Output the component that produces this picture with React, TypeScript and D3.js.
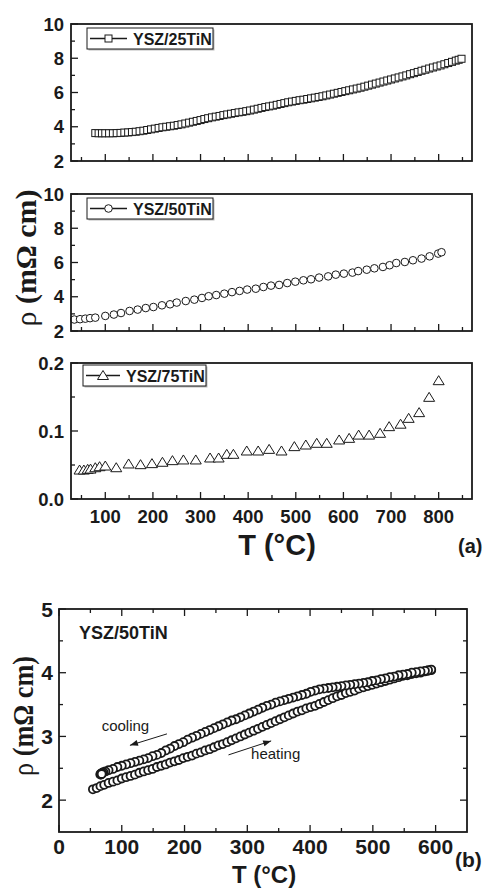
import React from "react";
import * as d3 from "d3";

type Pt = [number, number];

// (a) resistivity vs temperature, T in °C, rho in mOhm cm
const ysz25: Pt[] = [
  [79, 3.63], [86, 3.62], [93, 3.62], [100, 3.62], [108, 3.62], [116, 3.62], [124, 3.63],
  [132, 3.64], [140, 3.66], [148, 3.67], [156, 3.69], [164, 3.71], [172, 3.74], [180, 3.77],
  [188, 3.81], [196, 3.85], [204, 3.89], [212, 3.93], [220, 3.97], [228, 4.0], [236, 4.03],
  [244, 4.06], [252, 4.1], [260, 4.14], [268, 4.19], [276, 4.24], [284, 4.29], [292, 4.34],
  [300, 4.39], [308, 4.45], [316, 4.5], [324, 4.55], [332, 4.59], [340, 4.63], [348, 4.68],
  [356, 4.72], [364, 4.76], [372, 4.8], [380, 4.84], [388, 4.87], [396, 4.91], [404, 4.95],
  [412, 5.0], [420, 5.05], [428, 5.1], [436, 5.15], [444, 5.19], [452, 5.23], [460, 5.28],
  [468, 5.33], [476, 5.38], [484, 5.43], [492, 5.47], [500, 5.51], [508, 5.55], [516, 5.58],
  [524, 5.62], [532, 5.66], [540, 5.7], [548, 5.74], [556, 5.78], [564, 5.83], [572, 5.88],
  [580, 5.93], [588, 5.98], [596, 6.03], [604, 6.08], [612, 6.13], [620, 6.18], [628, 6.23],
  [636, 6.28], [644, 6.34], [652, 6.4], [660, 6.46], [668, 6.52], [676, 6.58], [684, 6.64],
  [692, 6.7], [700, 6.76], [708, 6.82], [716, 6.88], [724, 6.94], [732, 7.0], [740, 7.07],
  [748, 7.13], [756, 7.2], [764, 7.27], [772, 7.33], [780, 7.4], [788, 7.46], [796, 7.52],
  [804, 7.58], [812, 7.65], [820, 7.72], [828, 7.79], [836, 7.86], [842, 7.91], [848, 7.97],
];

const ysz50: Pt[] = [
  [35, 2.67], [47, 2.69], [58, 2.72], [68, 2.75], [79, 2.78], [100, 2.88], [118, 2.96],
  [133, 3.05], [151, 3.17], [168, 3.25], [185, 3.34], [201, 3.4], [219, 3.5], [236, 3.56],
  [250, 3.66], [269, 3.75], [287, 3.83], [303, 3.93], [317, 4.03], [333, 4.1], [350, 4.18],
  [366, 4.27], [382, 4.34], [398, 4.42], [416, 4.47], [432, 4.57], [448, 4.65], [465, 4.69],
  [482, 4.8], [499, 4.88], [516, 4.96], [532, 5.02], [549, 5.12], [568, 5.19], [584, 5.29],
  [601, 5.35], [619, 5.41], [631, 5.5], [649, 5.58], [665, 5.66], [683, 5.74], [697, 5.84],
  [711, 5.97], [729, 6.03], [746, 6.13], [764, 6.23], [781, 6.36], [799, 6.52], [806, 6.6],
];

const ysz75: Pt[] = [
  [46, 0.0426], [55, 0.0426], [63, 0.0436], [69, 0.044], [79, 0.046], [88, 0.0475],
  [100, 0.0485], [123, 0.046], [149, 0.0515], [174, 0.0505], [198, 0.052], [220, 0.054],
  [241, 0.0564], [264, 0.0574], [290, 0.0574], [320, 0.0603], [338, 0.0603], [355, 0.0657],
  [369, 0.0657], [397, 0.0706], [421, 0.0706], [444, 0.073], [470, 0.0706], [497, 0.077],
  [521, 0.0794], [544, 0.0819], [565, 0.0819], [591, 0.0868], [612, 0.0892], [632, 0.094],
  [654, 0.094], [677, 0.0966], [696, 0.1064], [720, 0.11], [737, 0.1186], [759, 0.127],
  [780, 0.1495], [800, 0.174],
];

// (b) YSZ/50TiN heating / cooling cycle
const heating: Pt[] = [
  [54, 2.17], [60, 2.19], [66, 2.22], [72, 2.24], [79, 2.27], [86, 2.29], [93, 2.31],
  [100, 2.34], [107, 2.36], [114, 2.38], [121, 2.4], [128, 2.43], [135, 2.45], [142, 2.47],
  [149, 2.49], [156, 2.52], [163, 2.54], [170, 2.56], [177, 2.59], [184, 2.61], [191, 2.63],
  [198, 2.66], [205, 2.68], [212, 2.7], [219, 2.73], [226, 2.75], [233, 2.78], [240, 2.8],
  [247, 2.83], [254, 2.86], [261, 2.88], [268, 2.91], [275, 2.94], [282, 2.97], [289, 3.0],
  [296, 3.03], [303, 3.06], [310, 3.09], [317, 3.12], [324, 3.15], [331, 3.18], [338, 3.21],
  [345, 3.24], [352, 3.27], [359, 3.3], [366, 3.33], [373, 3.36], [380, 3.39], [387, 3.41],
  [394, 3.44], [401, 3.46], [408, 3.48], [415, 3.51], [422, 3.54], [429, 3.57], [436, 3.6],
  [443, 3.63], [450, 3.65], [457, 3.68], [464, 3.7], [471, 3.72], [478, 3.75], [485, 3.77],
  [492, 3.79], [499, 3.81], [506, 3.83], [513, 3.85], [520, 3.87], [527, 3.89], [534, 3.91],
  [541, 3.93], [548, 3.95], [555, 3.96], [562, 3.98], [569, 3.99], [576, 4.0], [583, 4.02],
  [588, 4.03], [593, 4.04],
];

const cooling: Pt[] = [
  [593, 4.05], [588, 4.04], [583, 4.03], [576, 4.02], [569, 4.01], [562, 4.0], [555, 3.98],
  [548, 3.97], [541, 3.96], [534, 3.94], [527, 3.93], [520, 3.91], [513, 3.9], [506, 3.88],
  [499, 3.87], [492, 3.85], [485, 3.84], [478, 3.83], [471, 3.82], [464, 3.81], [457, 3.8],
  [450, 3.79], [443, 3.78], [436, 3.77], [429, 3.76], [422, 3.75], [415, 3.74], [408, 3.72],
  [401, 3.7], [394, 3.67], [387, 3.65], [380, 3.63], [373, 3.61], [366, 3.59], [359, 3.57],
  [352, 3.55], [345, 3.53], [338, 3.5], [331, 3.48], [324, 3.45], [317, 3.42], [310, 3.39],
  [303, 3.36], [296, 3.33], [289, 3.3], [282, 3.27], [275, 3.25], [268, 3.22], [261, 3.19],
  [254, 3.16], [247, 3.13], [240, 3.1], [233, 3.07], [226, 3.04], [219, 3.01], [212, 2.98],
  [205, 2.95], [198, 2.91], [191, 2.88], [184, 2.85], [177, 2.81], [170, 2.78], [163, 2.74],
  [156, 2.71], [149, 2.69], [142, 2.66], [135, 2.64], [128, 2.62], [121, 2.6], [114, 2.58],
  [107, 2.56], [100, 2.54], [93, 2.52], [86, 2.49], [79, 2.47], [74, 2.45], [71, 2.44],
  [69, 2.43], [68, 2.42], [67, 2.41], [66, 2.41], [66, 2.4], [67, 2.4], [68, 2.41],
];

// ticks
const xMajorA = [100, 200, 300, 400, 500, 600, 700, 800];
const xMinorA = [50, 150, 250, 350, 450, 550, 650, 750, 850];
const yMajorRho = [2, 4, 6, 8, 10];
const yMinorRho = [3, 5, 7, 9];
const yMajor75 = [0, 0.1, 0.2];
const yMinor75 = [0.05, 0.15];
const xMajorB = [0, 100, 200, 300, 400, 500, 600];
const xMinorB = [50, 150, 250, 350, 450, 550];
const yMajorB = [2, 3, 4, 5];
const yMinorB = [2.5, 3.5, 4.5];

// annotations for (b), in data coordinates
const arrowsB = [
  { from: [172, 3.04], to: [113, 2.86] },
  { from: [270, 2.71], to: [338, 2.93] },
];
const notesB = [
  { text: "cooling", at: [68, 3.09] },
  { text: "heating", at: [306, 2.64] },
];

const SANS = "'Liberation Sans', Arial, Helvetica, sans-serif";
const SERIF = "'Liberation Serif', 'Times New Roman', serif";
const INK = "#1a1a1a";

const xA = d3.scaleLinear().domain([28, 870]).range([71, 472]);
const y25 = d3.scaleLinear().domain([2, 10]).range([161, 24]);
const y50 = d3.scaleLinear().domain([2, 10]).range([331, 194]);
const y75 = d3.scaleLinear().domain([0, 0.2]).range([499, 363]);
const xB = d3.scaleLinear().domain([0, 650]).range([59, 467]);
const yB = d3.scaleLinear().domain([1.5, 5]).range([832, 609]);

const marker = (kind: string, cx: number, cy: number, key: any, sw = 1) => {
  if (kind === "square")
    return <rect key={key} x={cx - 3.5} y={cy - 3.5} width={7} height={7} fill="#fff" stroke={INK} strokeWidth={sw} />;
  if (kind === "triangle")
    return (
      <path key={key} d={`M${cx},${cy - 5}L${cx + 5.5},${cy + 4}L${cx - 5.5},${cy + 4}Z`}
        fill="#fff" stroke={INK} strokeWidth={sw} />
    );
  return <circle key={key} cx={cx} cy={cy} r={kind === "bigcircle" ? 4 : 3.8} fill="#fff" stroke={INK} strokeWidth={sw} />;
};

const Frame = ({ x, y, xMajor, xMinor, yMajor, yMinor, mirror, xLabels, yFmt, fs, xOff, yOff }: any) => {
  const [x0, x1] = x.range();
  const [y0, y1] = y.range();
  const M = 7, m = 4;
  return (
    <g>
      <g stroke={INK} strokeWidth={1.3}>
        {xMajor.map((v: number) => <line key={"a" + v} x1={x(v)} x2={x(v)} y1={y0} y2={y0 - M} />)}
        {xMinor.map((v: number) => <line key={"b" + v} x1={x(v)} x2={x(v)} y1={y0} y2={y0 - m} />)}
        {yMajor.map((v: number) => <line key={"c" + v} x1={x0} x2={x0 + M} y1={y(v)} y2={y(v)} />)}
        {yMinor.map((v: number) => <line key={"d" + v} x1={x0} x2={x0 + m} y1={y(v)} y2={y(v)} />)}
        {mirror && xMajor.map((v: number) => <line key={"e" + v} x1={x(v)} x2={x(v)} y1={y1} y2={y1 + M} />)}
        {mirror && xMinor.map((v: number) => <line key={"f" + v} x1={x(v)} x2={x(v)} y1={y1} y2={y1 + m} />)}
        {mirror && yMajor.map((v: number) => <line key={"g" + v} x1={x1} x2={x1 - M} y1={y(v)} y2={y(v)} />)}
        {mirror && yMinor.map((v: number) => <line key={"h" + v} x1={x1} x2={x1 - m} y1={y(v)} y2={y(v)} />)}
      </g>
      <rect x={x0} y={y1} width={x1 - x0} height={y0 - y1} fill="none" stroke={INK} strokeWidth={1.8} />
      <g fontFamily={SANS} fontWeight="bold" fontSize={fs} fill={INK}>
        {yMajor.map((v: number) => (
          <text key={"y" + v} x={x0 - yOff} y={y(v)} dy="0.36em" textAnchor="end">{yFmt(v)}</text>
        ))}
        {xLabels && xMajor.map((v: number) => (
          <text key={"x" + v} x={x(v)} y={y0 + xOff} textAnchor="middle">{d3.format("d")(v)}</text>
        ))}
      </g>
    </g>
  );
};

const Legend = ({ x, y, label, kind, tx }: any) => (
  <g>
    <rect x={x + 1.5} y={y + 1.5} width={tx + 80} height={21} fill="#bbb" />
    <rect x={x} y={y} width={tx + 80} height={21} fill="#fff" stroke={INK} strokeWidth={1} />
    <line x1={x + 3} x2={x + tx - 6} y1={y + 10.5} y2={y + 10.5} stroke={INK} strokeWidth={1.6} />
    {marker(kind, x + (tx - 3) / 2, y + 10.5, "m", 1)}
    <text x={x + tx} y={y + 17} fontFamily={SANS} fontWeight="bold" fontSize={16} fill={INK}>{label}</text>
  </g>
);

const panelsA = [
  { data: ysz25, y: y25, kind: "square", label: "YSZ/25TiN", yMajor: yMajorRho, yMinor: yMinorRho, lx: 87, ly: 28, tx: 46 },
  { data: ysz50, y: y50, kind: "circle", label: "YSZ/50TiN", yMajor: yMajorRho, yMinor: yMinorRho, lx: 87, ly: 198, tx: 46 },
  { data: ysz75, y: y75, kind: "triangle", label: "YSZ/75TiN", yMajor: yMajor75, yMinor: yMinor75, lx: 83, ly: 365, tx: 43 },
];

const arrowHead = (from: number[], to: number[]) => {
  const ang = Math.atan2(to[1] - from[1], to[0] - from[0]);
  const L = 8, W = 3;
  const bx = to[0] - L * Math.cos(ang), by = to[1] - L * Math.sin(ang);
  const px = -Math.sin(ang) * W, py = Math.cos(ang) * W;
  return `M${to[0]},${to[1]}L${bx + px},${by + py}L${bx - px},${by - py}Z`;
};

export default function App() {
  return (
    <svg width={486} height={888} style={{ position: "absolute", left: 0, top: 0, background: "#fff" }}>
      {/* (a) three stacked panels */}
      {panelsA.map((p, i) => (
        <g key={p.label}>
          {p.data.map((d, j) => marker(p.kind, xA(d[0]), p.y(d[1]), j, 1))}
          <Frame x={xA} y={p.y} xMajor={xMajorA} xMinor={xMinorA} yMajor={p.yMajor} yMinor={p.yMinor}
            mirror={false} xLabels={i === 2} yFmt={i === 2 ? d3.format(".1f") : d3.format("d")}
            fs={18.5} xOff={24} yOff={7} />
          <Legend x={p.lx} y={p.ly} label={p.label} kind={p.kind} tx={p.tx} />
        </g>
      ))}
      <text x={277} y={555} textAnchor="middle" fontFamily={SANS} fontWeight="bold" fontSize={29} fill={INK}>T (°C)</text>
      <text x={458} y={553} fontFamily={SANS} fontWeight="bold" fontSize={20} fill={INK}>(a)</text>
      <text transform="translate(36,258) rotate(-90)" textAnchor="middle" fontFamily={SERIF} fontWeight="bold"
        fontSize={30} fill={INK} textLength={137} lengthAdjust="spacingAndGlyphs">
        <tspan fontWeight="normal">ρ</tspan> (mΩ cm)
      </text>

      {/* (b) heating / cooling */}
      {heating.map((d, j) => marker("bigcircle", xB(d[0]), yB(d[1]), "h" + j, 1.8))}
      {cooling.map((d, j) => marker("bigcircle", xB(d[0]), yB(d[1]), "c" + j, 1.8))}
      <Frame x={xB} y={yB} xMajor={xMajorB} xMinor={xMinorB} yMajor={yMajorB} yMinor={yMinorB}
        mirror={true} xLabels={true} yFmt={d3.format("d")} fs={21} xOff={22} yOff={6} />
      <text x={79} y={639} fontFamily={SANS} fontWeight="bold" fontSize={18} fill={INK}>YSZ/50TiN</text>
      {arrowsB.map((a, i) => {
        const f = [xB(a.from[0]), yB(a.from[1])];
        const t = [xB(a.to[0]), yB(a.to[1])];
        return (
          <g key={"ar" + i}>
            <line x1={f[0]} y1={f[1]} x2={t[0]} y2={t[1]} stroke={INK} strokeWidth={1} />
            <path d={arrowHead(f, t)} fill={INK} />
          </g>
        );
      })}
      {notesB.map((n) => (
        <text key={n.text} x={xB(n.at[0])} y={yB(n.at[1])} fontFamily={SANS} fontSize={15} fill={INK}>{n.text}</text>
      ))}
      <text x={264} y={883} textAnchor="middle" fontFamily={SANS} fontWeight="bold" fontSize={24} fill={INK}>T (°C)</text>
      <text x={455} y={867} fontFamily={SANS} fontWeight="bold" fontSize={21} fill={INK}>(b)</text>
      <text transform="translate(33,716) rotate(-90)" textAnchor="middle" fontFamily={SERIF} fontWeight="bold"
        fontSize={29} fill={INK} textLength={120} lengthAdjust="spacingAndGlyphs">
        <tspan fontWeight="normal">ρ</tspan> (mΩ cm)
      </text>
    </svg>
  );
}
